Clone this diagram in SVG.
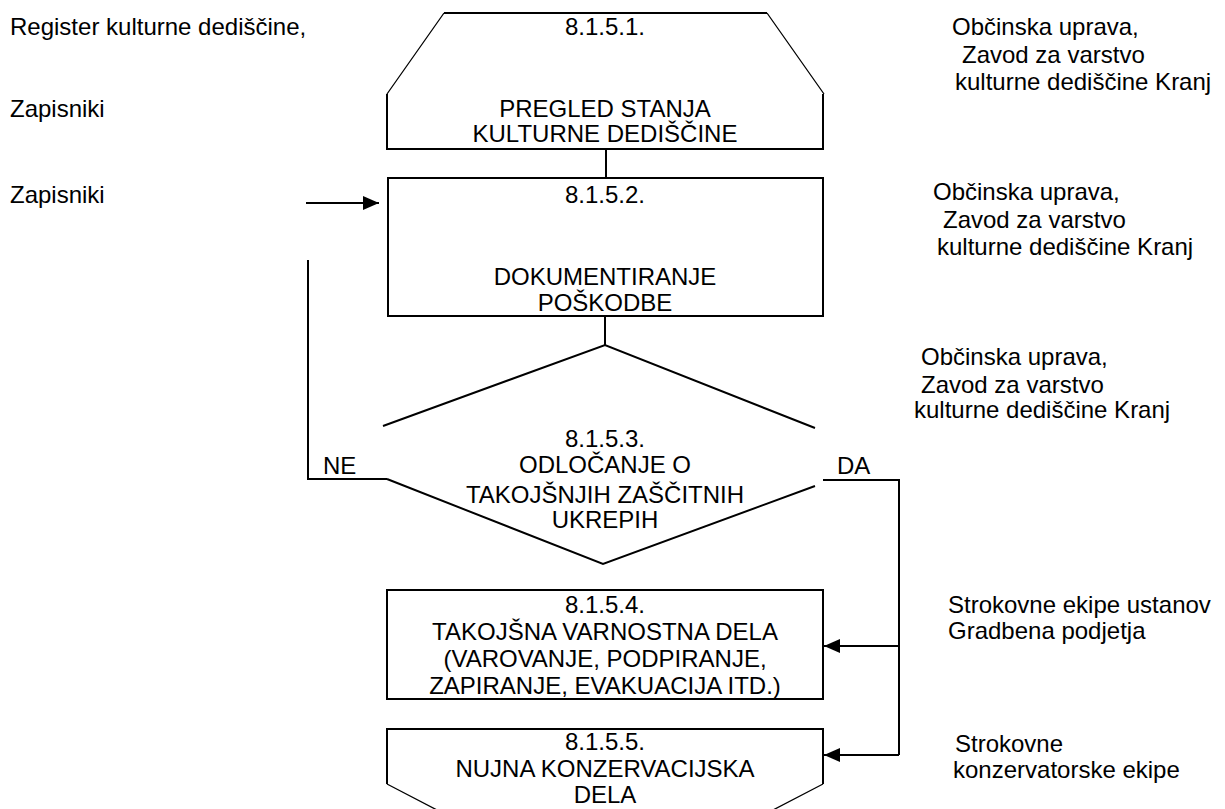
<svg xmlns="http://www.w3.org/2000/svg" width="1225" height="809" viewBox="0 0 1225 809">
<style>
text{font-family:"Liberation Sans",Arial,sans-serif;font-size:24px;fill:#000}
.c{text-anchor:middle}
.s{fill:none;stroke:#000;stroke-width:2}
.t{fill:none;stroke:#000;stroke-width:1.3}
</style>
<defs>
<marker id="ah" markerWidth="16" markerHeight="14" refX="16" refY="7" orient="auto" markerUnits="userSpaceOnUse">
<path d="M0,0 L16,7 L0,14 Z" fill="#000"/>
</marker>
</defs>
<rect width="1225" height="809" fill="#fff"/>

<g id="labels-left">
<text x="10" y="35">Register kulturne dediščine,</text>
<text x="10" y="117">Zapisniki</text>
<text x="10" y="203">Zapisniki</text>
</g>

<g id="n1">
<path class="s" d="M444,13 L767,13"/>
<path class="t" d="M444,13 L387,94 M767,13 L824,94"/>
<path class="s" d="M387,94 L387,149 L823,149 L823,94"/>
<text class="c" x="605" y="35">8.1.5.1.</text>
<text class="c" x="605" y="117">PREGLED STANJA</text>
<text class="c" x="605" y="142">KULTURNE DEDIŠČINE</text>
</g>
<g id="r1">
<text x="952" y="35">Občinska uprava,</text>
<text x="962" y="63">Zavod za varstvo</text>
<text x="955" y="90">kulturne dediščine Kranj</text>
</g>

<g id="n2">
<rect class="s" x="388" y="178" width="435" height="138"/>
<text class="c" x="605" y="203">8.1.5.2.</text>
<text class="c" x="605" y="285">DOKUMENTIRANJE</text>
<text class="c" x="605" y="311">POŠKODBE</text>
</g>
<g id="r2">
<text x="933" y="200">Občinska uprava,</text>
<text x="943" y="228">Zavod za varstvo</text>
<text x="937" y="255">kulturne dediščine Kranj</text>
</g>

<g id="n3">
<path class="s" d="M383,426 L605,345 L815,428"/>
<path class="s" d="M387,479 L603,564 L815,486"/>
<text class="c" x="605" y="447">8.1.5.3.</text>
<text class="c" x="605" y="473">ODLOČANJE O</text>
<text class="c" x="605" y="503">TAKOJŠNJIH ZAŠČITNIH</text>
<text class="c" x="605" y="528">UKREPIH</text>
<text x="323" y="474">NE</text>
<text x="837" y="474">DA</text>
</g>
<g id="r3">
<text x="921" y="365">Občinska uprava,</text>
<text x="921" y="393">Zavod za varstvo</text>
<text x="914" y="418">kulturne dediščine Kranj</text>
</g>

<g id="n4">
<rect class="s" x="387" y="590" width="436" height="109"/>
<text class="c" x="605" y="613">8.1.5.4.</text>
<text class="c" x="605" y="640">TAKOJŠNA VARNOSTNA DELA</text>
<text class="c" x="605" y="667">(VAROVANJE, PODPIRANJE,</text>
<text class="c" x="605" y="694">ZAPIRANJE, EVAKUACIJA ITD.)</text>
</g>
<g id="r4">
<text x="948" y="613">Strokovne ekipe ustanov</text>
<text x="948" y="639">Gradbena podjetja</text>
</g>

<g id="n5">
<path class="s" d="M387,784 L387,729 L823,729 L823,784"/>
<path class="t" d="M387,784 L437,810 M823,784 L773,810"/>
<text class="c" x="605" y="750">8.1.5.5.</text>
<text class="c" x="605" y="777">NUJNA KONZERVACIJSKA</text>
<text class="c" x="605" y="803">DELA</text>
</g>
<g id="r5">
<text x="955" y="752">Strokovne</text>
<text x="953" y="778">konzervatorske ekipe</text>
</g>

<g id="connectors">
<path class="s" d="M606,149 L606,178"/>
<path class="s" d="M605,316 L605,345"/>
<path class="s" d="M306,203 L379,203" marker-end="url(#ah)"/>
<path class="s" d="M308,260 L308,479 L387,479"/>
<path class="s" d="M823,480 L899,480 L899,755"/>
<path class="s" d="M899,646 L824,646" marker-end="url(#ah)"/>
<path class="s" d="M899,755 L824,755" marker-end="url(#ah)"/>
</g>
</svg>
